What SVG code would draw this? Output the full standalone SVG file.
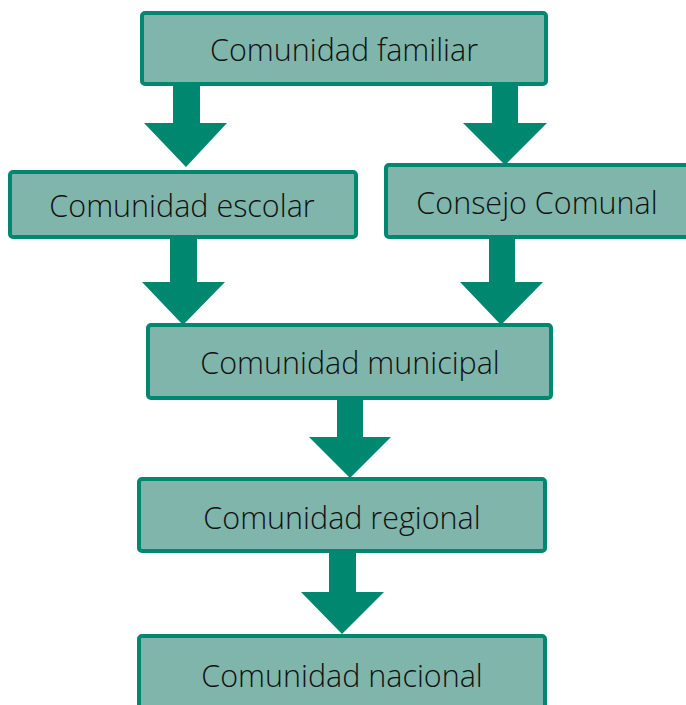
<svg xmlns="http://www.w3.org/2000/svg" width="686" height="705" viewBox="0 0 686 705">
<style>
.box{fill:#7fb5aa;stroke:#00876f;stroke-width:4}
.lbl{font-family:"Open Sans","Noto Sans",sans-serif;font-size:30.5px;font-weight:300;fill:#111111;text-anchor:middle}
.arr{fill:#00876f}
</style>
<rect width="686" height="705" fill="#ffffff"/>
<g id="connectors">
<polygon class="arr" points="173,85 200,85 200,123 227,123 186,167 144,123 173,123"/>
<polygon class="arr" points="492,85 518,85 518,123 547,123 505,165 463,123 492,123"/>
<polygon class="arr" points="170,238 197,238 197,282 225,282 183,325 142,282 170,282"/>
<polygon class="arr" points="489,238 515,238 515,282 543,282 501,325 460,282 489,282"/>
<polygon class="arr" points="337,399 363,399 363,437 391,437 350,478 309,437 337,437"/>
<polygon class="arr" points="329,551 356,551 356,592 384,592 342,634 301,592 329,592"/>
</g>
<g id="n-familiar"><rect class="box" x="142" y="13" width="404" height="71" rx="3"/><text class="lbl" x="344" y="61">Comunidad familiar</text></g>
<g id="n-escolar"><rect class="box" x="10" y="172" width="346" height="65" rx="3"/><text class="lbl" x="182" y="217">Comunidad escolar</text></g>
<g id="n-consejo"><rect class="box" x="386" y="165" width="304" height="72" rx="3"/><text class="lbl" x="537" y="214">Consejo Comunal</text></g>
<g id="n-municipal"><rect class="box" x="148" y="325" width="403" height="73" rx="3"/><text class="lbl" x="350" y="374">Comunidad municipal</text></g>
<g id="n-regional"><rect class="box" x="139" y="479" width="406" height="72" rx="3"/><text class="lbl" x="342" y="529">Comunidad regional</text></g>
<g id="n-nacional"><rect class="box" x="139" y="636" width="406" height="80" rx="3"/><text class="lbl" x="342" y="687">Comunidad nacional</text></g>
</svg>
